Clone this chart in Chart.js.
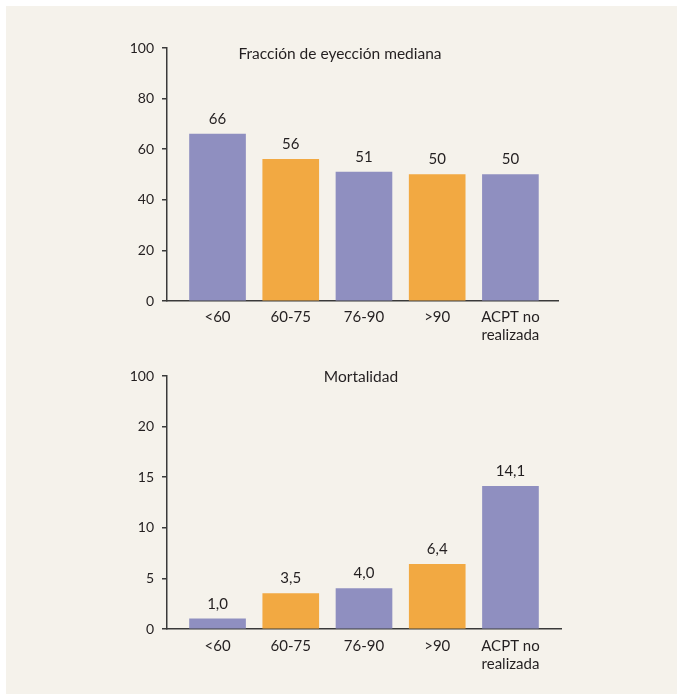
<!DOCTYPE html>
<html lang="es">
<head>
<meta charset="utf-8">
<script src="https://cdn.jsdelivr.net/npm/chart.js@4.4.1/dist/chart.umd.min.js"></script>
<style>
  html, body { margin: 0; padding: 0; background: #ffffff; }
  #panel {
    position: absolute; left: 6px; top: 6px; width: 671px; height: 688px;
    background: #f5f2eb;
  }
  canvas { position: absolute; }
  #fraccion { left: 94px; top: 24px; }
  #mortalidad { left: 94px; top: 344px; }
</style>
</head>
<body>
<div id="panel">
  <canvas id="fraccion" width="480" height="320"></canvas>
  <canvas id="mortalidad" width="480" height="340"></canvas>
</div>
<script>
// Categories (ACPT groups) and the values shown for each panel
const categories = ['<60', '60-75', '76-90', '>90', ['ACPT no', 'realizada']];
const fraccionValues = [66, 56, 51, 50, 50];
const mortalidadValues = [1.0, 3.5, 4.0, 6.4, 14.1];
const fraccionTickLabels = ['0', '20', '40', '60', '80', '100'];
const mortalidadTickLabels = ['0', '5', '10', '15', '20', '100'];
const barColors = ['#8f8fc0', '#f2a942', '#8f8fc0', '#f2a942', '#8f8fc0'];

const FONT = 'Lato, "Open Sans", sans-serif';
const INK = '#231f20';
const AXIS = '#3a3a3a';

// Value labels above the bars and a title inside the plot area
const panelDecor = {
  id: 'panelDecor',
  afterDatasetsDraw(chart, args, opts) {
    const ctx = chart.ctx;
    const meta = chart.getDatasetMeta(0);
    const values = chart.data.datasets[0].data;
    ctx.save();
    ctx.fillStyle = INK;
    ctx.font = '15px ' + FONT;
    ctx.textAlign = 'center';
    ctx.textBaseline = 'middle';
    meta.data.forEach((bar, i) => {
      ctx.fillText(opts.format(values[i].y), bar.x, bar.y - opts.labelGap);
    });
    const area = chart.chartArea;
    ctx.font = '15.5px ' + FONT;
    ctx.fillText(opts.title, area.left + opts.titleX, area.top + opts.titleY);
    ctx.restore();
  }
};

function makeChart(id, values, tickLabels, yMax, yStep, cfg) {
  return new Chart(document.getElementById(id), {
    type: 'bar',
    data: {
      datasets: [{
        data: values.map((v, i) => ({ x: i, y: v })),
        backgroundColor: barColors,
        borderWidth: 0,
        barThickness: 56
      }]
    },
    options: {
      responsive: false,
      animation: false,
      events: [],
      layout: { padding: cfg.padding },
      plugins: {
        legend: { display: false },
        tooltip: { enabled: false },
        title: { display: false },
        panelDecor: cfg.decor
      },
      scales: {
        x: {
          type: 'linear',
          offset: false,
          min: cfg.xMin,
          max: cfg.xMax,
          afterBuildTicks: scale => { scale.ticks = categories.map((_, i) => ({ value: i })); },
          afterFit: scale => { scale.height = cfg.xHeight; },
          grid: { display: false, drawTicks: false, offset: false },
          border: { display: true, color: AXIS, width: 1.5 },
          ticks: {
            autoSkip: false,
            maxRotation: 0,
            padding: cfg.xPad,
            color: INK,
            font: { family: FONT, size: 15, lineHeight: 1.2 },
            callback: v => categories[v]
          }
        },
        y: {
          min: 0,
          max: yMax,
          afterFit: scale => { scale.width = 67; },
          afterBuildTicks: scale => {
            scale.ticks = tickLabels.map((_, i) => ({ value: i * yStep }));
          },
          grid: { drawOnChartArea: false, drawTicks: true, tickLength: 5, color: AXIS, lineWidth: 1.5 },
          border: { display: true, color: AXIS, width: 1.5 },
          ticks: {
            padding: 8,
            color: INK,
            font: { family: FONT, size: 14 },
            callback: (v, i) => tickLabels[i]
          }
        }
      }
    },
    plugins: [panelDecor]
  });
}

makeChart('fraccion', fraccionValues, fraccionTickLabels, 100, 20, {
  padding: { left: 0, right: 22, top: 18, bottom: 0 },
  xMin: -0.69, xMax: 4.65, xHeight: 49, xPad: 7,
  decor: {
    title: 'Fracción de eyección mediana',
    titleX: 173, titleY: 6, labelGap: 15,
    format: v => String(v)
  }
});

makeChart('mortalidad', mortalidadValues, mortalidadTickLabels, 25, 5, {
  padding: { left: 0, right: 19, top: 26, bottom: 0 },
  xMin: -0.69, xMax: 4.69, xHeight: 61, xPad: 8,
  decor: {
    title: 'Mortalidad',
    titleX: 194, titleY: 1, labelGap: 15,
    format: v => v.toFixed(1).replace('.', ',')
  }
});
</script>
</body>
</html>
